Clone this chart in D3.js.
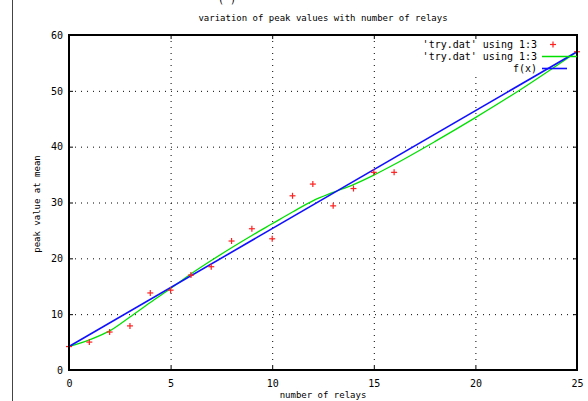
<!DOCTYPE html>
<html><head><meta charset="utf-8">
<script src="https://cdn.jsdelivr.net/npm/d3@7"></script>
<style>body{margin:0;background:#fff}svg{display:block}text{font-family:"DejaVu Sans Mono",monospace;fill:#000}</style>
</head><body><svg id="c" width="588" height="401"></svg>
<script>
const xTicks = [0,5,10,15,20,25];
const yTicks = [0,10,20,30,40,50,60];
const dataX = [0,1,2,3,4,5,6,7,8,9,10,11,12,13,14,15,16,25];
const dataY = [4.2,5.0,6.8,7.9,13.8,14.3,17.0,18.5,23.1,25.3,23.5,31.2,33.3,29.4,32.5,35.4,35.4,57.0];
const smoothX = [0,1,2,3,4,5,6,7,8,9,10,11,12,13,14,15,16,18,20,22,25];
const smoothY = [4.2,5.4,7.0,9.5,12.1,14.6,17.2,19.6,21.9,24.1,26.2,28.3,30.3,31.8,33.2,34.9,36.8,40.9,45.2,49.7,57.0];
const fitX = [0,25];
const fitY = [4.2,57.0];
const legendLabels = ["'try.dat' using 1:3","'try.dat' using 1:3","f(x)"];

const svg = d3.select("#c");
const L=69,R=577,T=35,B=370;
const x = d3.scaleLinear().domain([0,25]).range([L,R]);
const y = d3.scaleLinear().domain([0,60]).range([B,T]);

svg.append("line").attr("x1",12.5).attr("x2",12.5).attr("y1",0).attr("y2",401).attr("stroke","#444").attr("stroke-width",1);
svg.append("text").attr("x",227).attr("y",3).attr("text-anchor","middle").attr("font-size",10).text("(   )");

const g = svg.append("g");
g.selectAll(".gx").data(xTicks.filter(d=>d>0&&d<25)).join("line")
 .attr("x1",d=>x(d)+0.5).attr("x2",d=>x(d)+0.5).attr("y1",T).attr("y2",B)
 .attr("stroke","#000").attr("stroke-width",1).attr("stroke-dasharray","1,5");
g.selectAll(".gy").data(yTicks.filter(d=>d>0&&d<60)).join("line")
 .attr("y1",d=>y(d)+0.5).attr("y2",d=>y(d)+0.5).attr("x1",L).attr("x2",R)
 .attr("stroke","#000").attr("stroke-width",1).attr("stroke-dasharray","1,5");

svg.append("rect").attr("x",428).attr("y",T+1).attr("width",R-429).attr("height",40).attr("fill","#fff");

const axB = d3.axisBottom(x).tickValues(xTicks).tickSize(0).tickPadding(10);
const axL = d3.axisLeft(y).tickValues(yTicks).tickSize(0).tickPadding(6);
const gb = svg.append("g").attr("transform",`translate(0,${B})`).call(axB);
const gl = svg.append("g").attr("transform",`translate(${L},0)`).call(axL);
[gb,gl].forEach(a=>{a.select(".domain").remove();a.selectAll("text").attr("font-size",10).attr("font-family","DejaVu Sans Mono,monospace");});
gb.selectAll("text").attr("dy","0.71em");
const tk = svg.append("g").attr("stroke","#000").attr("stroke-width",1);
xTicks.forEach(d=>{
  tk.append("line").attr("x1",x(d)+0.5).attr("x2",x(d)+0.5).attr("y1",B).attr("y2",B-4);
  tk.append("line").attr("x1",x(d)+0.5).attr("x2",x(d)+0.5).attr("y1",T).attr("y2",T+4);
});
yTicks.forEach(d=>{
  tk.append("line").attr("y1",y(d)+0.5).attr("y2",y(d)+0.5).attr("x1",L).attr("x2",L+4);
  tk.append("line").attr("y1",y(d)+0.5).attr("y2",y(d)+0.5).attr("x1",R).attr("x2",R-4);
});

svg.append("path").datum(smoothX.map((v,i)=>[v,smoothY[i]]))
 .attr("d",d3.line().x(d=>x(d[0])).y(d=>y(d[1])).curve(d3.curveMonotoneX)).attr("fill","none").attr("stroke","#00e000").attr("stroke-width",1.3);
svg.append("path").datum(fitX.map((v,i)=>[v,fitY[i]]))
 .attr("d",d3.line().x(d=>x(d[0])).y(d=>y(d[1]))).attr("fill","none").attr("stroke","#1010ff").attr("stroke-width",1.6);

const pts = svg.append("g").attr("stroke","#ff2020").attr("stroke-width",1.2);
dataX.forEach((v,i)=>{
  const px=x(v), py=y(dataY[i]);
  pts.append("line").attr("x1",px-3).attr("x2",px+3).attr("y1",py).attr("y2",py);
  pts.append("line").attr("x1",px).attr("x2",px).attr("y1",py-3).attr("y2",py+3);
});

svg.append("rect").attr("x",L).attr("y",T).attr("width",R-L).attr("height",B-T)
 .attr("fill","none").attr("stroke","#000").attr("stroke-width",2);

const ly=[44,56,68];
legendLabels.forEach((t,i)=>{
  svg.append("text").attr("x",537).attr("y",ly[i]+3.5).attr("text-anchor","end").attr("font-size",10).text(t);
});
svg.append("line").attr("x1",550).attr("x2",556).attr("y1",ly[0]+0.5).attr("y2",ly[0]+0.5).attr("stroke","#ff2020").attr("stroke-width",1.2);
svg.append("line").attr("x1",553).attr("x2",553).attr("y1",ly[0]-2.5).attr("y2",ly[0]+3.5).attr("stroke","#ff2020").attr("stroke-width",1.2);
svg.append("line").attr("x1",542).attr("x2",577).attr("y1",ly[1]+0.5).attr("y2",ly[1]+0.5).attr("stroke","#00e000").attr("stroke-width",1.3);
svg.append("line").attr("x1",542).attr("x2",567).attr("y1",ly[2]+0.5).attr("y2",ly[2]+0.5).attr("stroke","#1010ff").attr("stroke-width",1.6);

svg.append("text").attr("x",323).attr("y",21).attr("text-anchor","middle").attr("font-size",9).text("variation of peak values with number of relays");
svg.append("text").attr("x",323).attr("y",398).attr("text-anchor","middle").attr("font-size",9).text("number of relays");
svg.append("text").attr("transform","translate(40,204) rotate(-90)").attr("text-anchor","middle").attr("font-size",9).text("peak value at mean");
</script></body></html>
